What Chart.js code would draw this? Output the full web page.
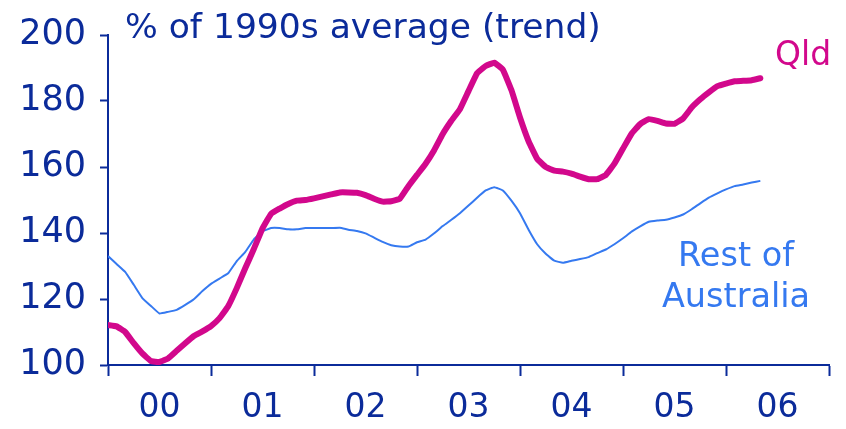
<!DOCTYPE html>
<html>
<head>
<meta charset="utf-8">
<script src="https://cdn.jsdelivr.net/npm/chart.js@4/dist/chart.umd.min.js"></script>
<style>
    html, body { margin: 0; padding: 0; background: #ffffff; }
    #wrap { position: relative; width: 846px; height: 429px; }
</style>
</head>
<body>
<div id="wrap"><canvas id="qldChart" width="846" height="429"></canvas></div>
<script>
// Months since Jan 2000 (monthly trend series)
const months = [
    0, 1, 2, 3, 4, 5, 6, 7, 8, 9, 10, 11,
    12, 13, 14, 15, 16, 17, 18, 19, 20, 21, 22, 23,
    24, 25, 26, 27, 28, 29, 30, 31, 32, 33, 34, 35,
    36, 37, 38, 39, 40, 41, 42, 43, 44, 45, 46, 47,
    48, 49, 50, 51, 52, 53, 54, 55, 56, 57, 58, 59,
    60, 61, 62, 63, 64, 65, 66, 67, 68, 69, 70, 71,
    72, 73, 74, 75, 76
];

// Qld, % of 1990s average
const qldValues = [
    112.1, 111.7, 110.0, 106.6, 103.5, 101.2, 100.9, 102.0, 104.3, 106.6, 108.8, 110.2,
    111.8, 114.2, 117.8, 123.3, 129.4, 135.2, 141.4, 145.8, 147.4, 148.8, 149.8, 150.0,
    150.5, 151.1, 151.7, 152.3, 152.3, 152.2, 151.5, 150.4, 149.5, 149.6, 150.4, 154.2,
    157.6, 161.0, 165.1, 170.0, 174.0, 177.5, 183.0, 188.4, 190.6, 191.6, 189.5, 183.3,
    175.0, 167.8, 162.5, 160.0, 158.9, 158.6, 158.0, 157.1, 156.3, 156.3, 157.6, 161.0,
    165.6, 170.1, 173.0, 174.5, 174.0, 173.2, 173.1, 174.7, 178.0, 180.5, 182.6, 184.5,
    185.3, 186.0, 186.1, 186.3, 186.9
];

// Rest of Australia, % of 1990s average
const restValues = [
    133.0, 130.6, 128.2, 124.3, 120.3, 117.9, 115.6, 116.1, 116.7, 118.2, 119.9, 122.4,
    124.6, 126.2, 127.8, 131.5, 134.3, 138.1, 140.5, 141.5, 141.5, 141.1, 141.1, 141.5,
    141.5, 141.5, 141.5, 141.6, 141.0, 140.6, 139.9, 138.6, 137.3, 136.3, 135.9, 135.9,
    137.2, 138.0, 139.9, 142.1, 144.0, 146.0, 148.3, 150.7, 152.9, 153.9, 152.9, 149.8,
    146.0, 141.0, 136.6, 133.7, 131.6, 131.0, 131.6, 132.1, 132.7, 133.9, 135.0, 136.6,
    138.4, 140.4, 142.0, 143.4, 143.8, 144.0, 144.7, 145.6, 147.2, 149.0, 150.7, 152.0,
    153.2, 154.2, 154.7, 155.3, 155.8
];

const yearLabels = ['00', '01', '02', '03', '04', '05', '06'];
const yTicks = [100, 120, 140, 160, 180, 200];

const navy = '#0b2b9a';
const magenta = '#d2088c';
const lightBlue = '#3579f0';
const fontFamily = '"DejaVu Sans", Verdana, sans-serif';

// Free-standing labels: title and series names
const labelPlugin = {
    id: 'labels',
    afterDraw(chart) {
        const c = chart.ctx;
        c.save();
        c.textBaseline = 'alphabetic';
        c.textAlign = 'left';
        c.font = '34.5px ' + fontFamily;
        c.fillStyle = navy;
        c.fillText('% of 1990s average (trend)', 125, 38);
        c.font = '33px ' + fontFamily;
        c.fillStyle = magenta;
        c.fillText('Qld', 775, 65);
        c.font = '33.5px ' + fontFamily;
        c.fillStyle = lightBlue;
        c.textAlign = 'center';
        c.fillText('Rest of', 736, 266);
        c.fillText('Australia', 736, 307);
        c.restore();
    }
};

const ctx = document.getElementById('qldChart');
new Chart(ctx, {
    type: 'line',
    data: {
        datasets: [
            {
                label: 'Qld',
                data: months.map((m, i) => ({ x: m, y: qldValues[i] })),
                borderColor: magenta,
                borderWidth: 6,
                pointRadius: 0,
                tension: 0.1,
                borderCapStyle: 'round',
                borderJoinStyle: 'round'
            },
            {
                label: 'Rest of Australia',
                data: months.map((m, i) => ({ x: m, y: restValues[i] })),
                borderColor: lightBlue,
                borderWidth: 2,
                pointRadius: 0,
                tension: 0.1
            }
        ]
    },
    options: {
        responsive: false,
        animation: false,
        layout: { padding: { top: 27, right: 17, left: 0, bottom: 0 } },
        plugins: {
            legend: { display: false },
            tooltip: { enabled: false }
        },
        scales: {
            x: {
                type: 'linear',
                min: 0,
                max: yearLabels.length * 12,
                afterBuildTicks: scale => {
                    const ticks = [];
                    for (let v = 0; v <= yearLabels.length * 12; v += 6) ticks.push({ value: v });
                    scale.ticks = ticks;
                },
                afterFit: scale => { scale.height = 64; },
                border: { color: navy, width: 2 },
                grid: {
                    drawOnChartArea: false,
                    tickLength: 11,
                    tickWidth: 2,
                    tickColor: c => (c.tick && c.tick.value % 12 === 0) ? navy : 'rgba(0,0,0,0)'
                },
                ticks: {
                    autoSkip: false,
                    maxRotation: 0,
                    padding: 13,
                    color: navy,
                    font: { family: fontFamily, size: 33 },
                    callback: value => value % 12 === 6 ? yearLabels[(value - 6) / 12] : ''
                }
            },
            y: {
                min: yTicks[0],
                max: yTicks[yTicks.length - 1],
                afterBuildTicks: scale => { scale.ticks = yTicks.map(v => ({ value: v })); },
                afterFit: scale => { scale.width = 108; },
                border: { color: navy, width: 2 },
                grid: {
                    drawOnChartArea: false,
                    tickLength: 8,
                    tickWidth: 2,
                    tickColor: navy
                },
                ticks: {
                    padding: 14,
                    color: navy,
                    font: { family: fontFamily, size: 35 }
                }
            }
        }
    },
    plugins: [labelPlugin]
});
</script>
</body>
</html>
